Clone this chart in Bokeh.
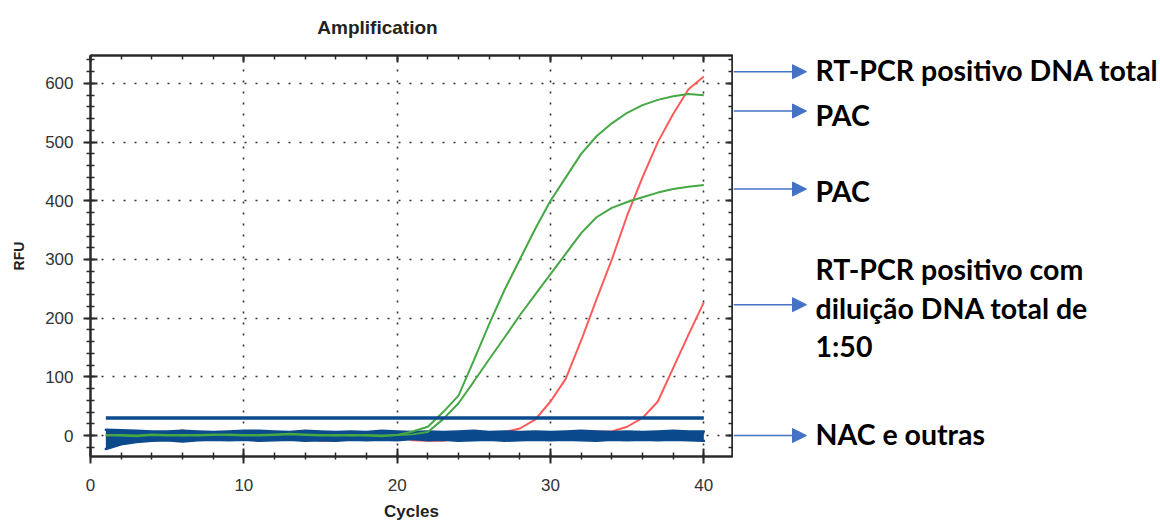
from bokeh.plotting import figure
from bokeh.layouts import row, column
from bokeh.models import Range1d, LinearAxis, SingleIntervalTicker, Arrow, NormalHead, ColumnDataSource
from bokeh.core.properties import value
from bokeh.embed import file_html
from bokeh.resources import INLINE

# ---------------- data ----------------
cycles = list(range(1, 41))

green_pac1 = [0, 1, 0, 2, 1, 0, 1, 2, 1, 0, 1, 2, 3, 2, 1, 0, 1, 0, -1, 1,
              7, 15, 40, 68, 128, 190, 248, 300, 352, 400, 440, 480, 510, 532, 550, 563, 572, 578, 582, 580]
green_pac2 = [1, 0, -1, 1, 0, 1, 0, 1, 2, 1, 0, 1, 2, 1, 0, 1, 0, 1, 0, 1,
              2, 6, 28, 55, 92, 130, 167, 205, 240, 275, 310, 345, 372, 388, 398, 406, 414, 420, 424, 427]
red_total = [0, -1, 1, 2, 3, 9, 2, 0, -1, 1, 0, 2, 1, 0, -2, -1, 0, 1, -1, 0,
             -8, -9, -9, -4, 0, 2, 6, 12, 27, 58, 97, 162, 232, 300, 375, 440, 500, 548, 590, 612]
red_dil = [0, 1, -1, 0, 1, 2, 0, -1, 1, 0, 1, -1, 0, -3, -9, -9, -2, 0, 1, 0,
           1, -1, 0, 1, 2, 1, 0, 1, 2, 3, 4, 6, 7, 7, 15, 30, 58, 115, 172, 227]
# envelope of the negative / other traces (NAC e outras)
band_hi = [10, 9, 8, 7, 7, 8, 7, 6, 7, 8, 8, 7, 6, 8, 7, 6, 7, 6, 8, 7,
           6, 7, 6, 7, 8, 6, 7, 6, 7, 6, 7, 8, 7, 6, 7, 6, 7, 8, 7, 7]
band_lo = [-23, -15, -11, -9, -8, -10, -8, -7, -8, -7, -9, -8, -7, -9, -8, -9, -7, -8, -7, -8,
           -6, -8, -7, -9, -8, -7, -9, -8, -7, -8, -7, -8, -9, -7, -8, -7, -8, -7, -8, -9]
threshold = 30

title_text = "Amplification"
ann_texts = ["RT-PCR positivo DNA total", "PAC", "PAC",
             "RT-PCR positivo com\ndiluição DNA total de\n1:50", "NAC e outras"]
ann_targets = [620, 553, 420, 223, 0]

# ---------------- styling ----------------
BLUE = "#0b4a8c"
GREEN = "#45a845"
RED = "#ff5a5a"
ARROW = "#4472c4"
AX = "#2a2a2a"

X0, X1 = 0, 41.87
Y0, Y1 = -35.7, 647.6
HEAD_H = 54
BODY_H = 523 - HEAD_H
TOP, BOTTOM = 1, 66
MAIN_W = 733
SIDE_W = 1160 - MAIN_W

# ---------------- header with the title ----------------
head = figure(width=1160, height=HEAD_H, x_range=Range1d(0, 1160), y_range=Range1d(0, HEAD_H),
              output_backend="svg", toolbar_location=None, x_axis_type=None, y_axis_type=None,
              min_border=0)
head.outline_line_color = None
head.grid.visible = False
head.text(x=[377], y=[HEAD_H - 27], text=[title_text], text_font=value("Liberation Sans"),
          text_font_style="bold", text_font_size="19px", text_color="#222",
          text_align="center", text_baseline="middle")

# ---------------- main chart ----------------
p = figure(width=MAIN_W, height=BODY_H, x_range=Range1d(X0, X1), y_range=Range1d(Y0, Y1),
           output_backend="svg", toolbar_location=None,
           min_border_left=90, min_border_right=1, min_border_top=TOP, min_border_bottom=BOTTOM)
p.background_fill_color = "white"
p.border_fill_color = "white"
p.outline_line_color = AX
p.outline_line_width = 2

xt = SingleIntervalTicker(interval=10, num_minor_ticks=5)
yt = SingleIntervalTicker(interval=100, num_minor_ticks=5)

bottom_ax = p.below[0]
left_ax = p.left[0]

bottom_ax.ticker = xt
bottom_ax.axis_label = "Cycles"
bottom_ax.major_tick_in = 8
bottom_ax.major_tick_out = 7
bottom_ax.minor_tick_in = 4
bottom_ax.minor_tick_out = 3
bottom_ax.major_label_standoff = 15
bottom_ax.axis_label_standoff = 8
bottom_ax.major_label_text_font_size = "17px"
bottom_ax.axis_label_text_font_size = "17px"

left_ax.ticker = yt
left_ax.axis_label = "RFU"
left_ax.major_tick_in = 7
left_ax.major_tick_out = 7
left_ax.minor_tick_in = 4
left_ax.minor_tick_out = 4
left_ax.major_label_standoff = 10
left_ax.axis_label_standoff = 15
left_ax.major_label_text_font_size = "17px"
left_ax.axis_label_text_font_size = "14px"

top_ax = LinearAxis(ticker=SingleIntervalTicker(interval=10, num_minor_ticks=5))
right_ax = LinearAxis(ticker=SingleIntervalTicker(interval=100, num_minor_ticks=5))
for ax in (top_ax, right_ax):
    ax.major_tick_in = 7
    ax.major_tick_out = 0
    ax.minor_tick_in = 4
    ax.minor_tick_out = 0
    ax.major_label_text_font_size = "0px"
    ax.major_label_text_color = None
    ax.major_label_standoff = 0
p.add_layout(top_ax, "above")
p.add_layout(right_ax, "right")

for ax in (bottom_ax, left_ax, top_ax, right_ax):
    ax.axis_line_color = AX
    ax.axis_line_width = 2
    ax.major_tick_line_color = AX
    ax.major_tick_line_width = 2
    ax.minor_tick_line_color = AX
    ax.minor_tick_line_width = 1.5
for ax in (bottom_ax, left_ax):
    ax.major_label_text_font = "Liberation Sans"
    ax.major_label_text_color = "#333"
    ax.axis_label_text_font = "Liberation Sans"
    ax.axis_label_text_font_style = "bold"
    ax.axis_label_text_color = "#222"

p.xgrid.ticker = xt
p.ygrid.ticker = yt
for g in (p.xgrid, p.ygrid):
    g.grid_line_color = "#333"
    g.grid_line_width = 1.6
    g.grid_line_dash = "2 9"

p.line(cycles, red_total, line_color=RED, line_width=2)
p.line(cycles, red_dil, line_color=RED, line_width=2)
p.varea(x=cycles, y1=band_lo, y2=band_hi, fill_color=BLUE)
p.line(cycles, band_hi, line_color=BLUE, line_width=2.5, line_join="round", line_cap="round")
p.line(cycles, band_lo, line_color=BLUE, line_width=2.5, line_join="round", line_cap="round")
p.line(cycles, green_pac1, line_color=GREEN, line_width=2)
p.line(cycles, green_pac2, line_color=GREEN, line_width=2)
p.line([cycles[0], cycles[-1]], [threshold, threshold], line_color=BLUE, line_width=3.5)

# ---------------- annotation panel (right of the chart) ----------------
side = figure(width=SIDE_W, height=BODY_H, x_range=Range1d(0, SIDE_W), y_range=Range1d(Y0, Y1),
              output_backend="svg", toolbar_location=None, x_axis_type=None, y_axis_type=None,
              min_border_left=0, min_border_right=0, min_border_top=TOP, min_border_bottom=BOTTOM)
side.outline_line_color = None
side.grid.visible = False
side.background_fill_color = "white"
side.border_fill_color = "white"

ARROW_X0, ARROW_X1, TEXT_X = 0, 73, 82
text_dy = [-2, 4, 2, 3, -2]   # small vertical nudges (px) of the labels
for tgt in ann_targets:
    side.add_layout(Arrow(end=NormalHead(size=14, fill_color=ARROW, line_color=ARROW),
                          x_start=ARROW_X0, y_start=tgt, x_end=ARROW_X1, y_end=tgt,
                          line_color=ARROW, line_width=1.5))
ann_src = ColumnDataSource(dict(x=[TEXT_X] * len(ann_texts), y=ann_targets, text=ann_texts, dy=text_dy))
side.text(x="x", y="y", text="text", y_offset="dy", source=ann_src,
          text_font=value("Lato"), text_font_style="bold", text_font_size="28.5px",
          text_color="black", text_align="left", text_baseline="middle", text_line_height=1.13)

layout = column(head, row(p, side))
open("out.html", "w").write(file_html(layout, INLINE))
